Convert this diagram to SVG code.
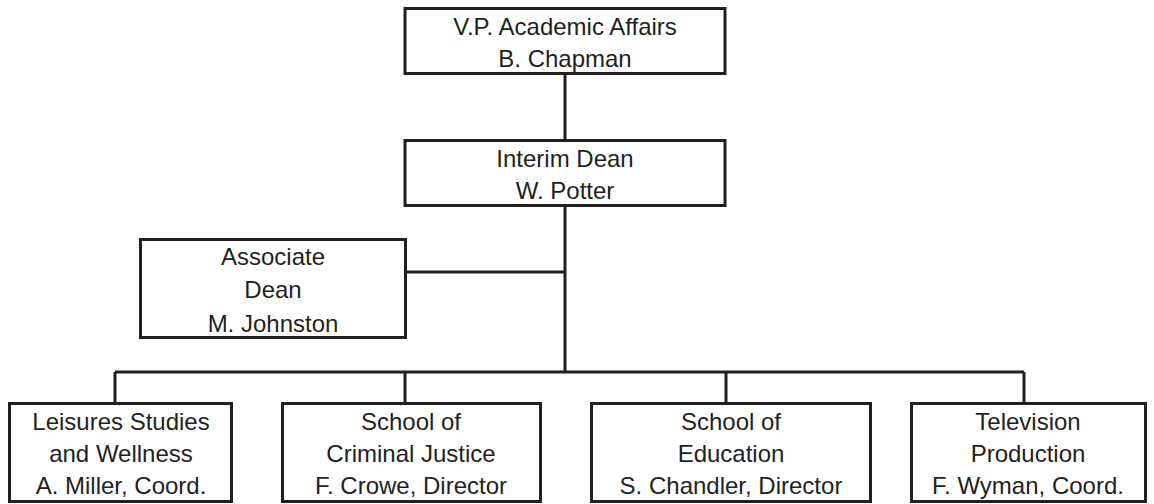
<svg xmlns="http://www.w3.org/2000/svg" width="1154" height="504" viewBox="0 0 1154 504">
<style>
.box{fill:#fff;stroke:#231f20;stroke-width:3}
.ln{fill:none;stroke:#231f20;stroke-width:3}
text{font-family:"Liberation Sans",Arial,sans-serif;font-size:24px;fill:#231f20;text-anchor:middle}
</style>
<rect width="1154" height="504" fill="#fff"/>
<g id="connectors">
<path class="ln" d="M565 74V140M565 206V372M406 272H565M115 372H1024M115 372V403M405 372V403M726 372V403M1024 372V403"/>
</g>
<g id="vp">
<rect class="box" x="405" y="8.5" width="320" height="65"/>
<text x="565" y="35">V.P. Academic Affairs</text>
<text x="565" y="67">B. Chapman</text>
</g>
<g id="interim">
<rect class="box" x="405" y="140.5" width="320" height="65"/>
<text x="565" y="167">Interim Dean</text>
<text x="565" y="199">W. Potter</text>
</g>
<g id="associate">
<rect class="box" x="140.5" y="239.5" width="265" height="98"/>
<text x="273" y="265">Associate</text>
<text x="273" y="298">Dean</text>
<text x="273" y="332">M. Johnston</text>
</g>
<g id="leisure">
<rect class="box" x="9.5" y="403.5" width="222" height="98"/>
<text x="121" y="430">Leisures Studies</text>
<text x="121" y="462">and Wellness</text>
<text x="121" y="494">A. Miller, Coord.</text>
</g>
<g id="criminal">
<rect class="box" x="282.5" y="403.5" width="258" height="98"/>
<text x="411" y="430">School of</text>
<text x="411" y="462">Criminal Justice</text>
<text x="411" y="494">F. Crowe, Director</text>
</g>
<g id="education">
<rect class="box" x="591.5" y="403.5" width="279" height="98"/>
<text x="731" y="430">School of</text>
<text x="731" y="462">Education</text>
<text x="731" y="494">S. Chandler, Director</text>
</g>
<g id="television">
<rect class="box" x="911.5" y="403.5" width="234" height="98"/>
<text x="1028" y="430">Television</text>
<text x="1028" y="462">Production</text>
<text x="1028" y="494">F. Wyman, Coord.</text>
</g>
</svg>
